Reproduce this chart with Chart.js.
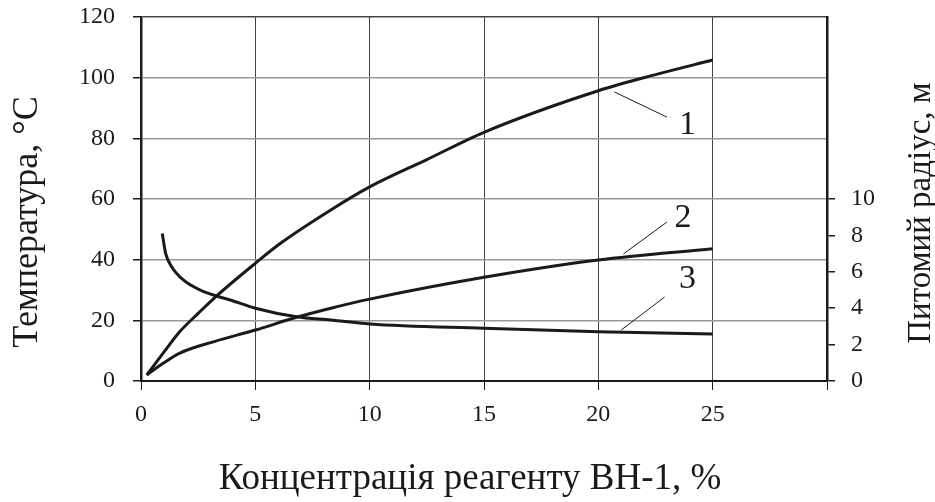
<!DOCTYPE html>
<html>
<head>
<meta charset="utf-8">
<script src="https://cdn.jsdelivr.net/npm/chart.js@4"></script>
<style>
  html, body { margin: 0; padding: 0; background: #fff; }
</style>
</head>
<body>
<canvas id="chart" width="935" height="502"></canvas>
<script>
// curve 1 - temperature, curve 2 - temperature, curve 3 - specific radius (right axis)
const conc1 = [0.25, 1, 1.7, 2.5, 3.3, 5, 6.1, 8.3, 10, 12.5, 15, 20, 22.5, 25];
const temp1 = [2, 9.5, 16.3, 22.3, 28, 38.8, 45.4, 56.4, 64, 73, 82, 95.7, 101, 105.8];

const conc2 = [0.25, 1, 1.7, 3.2, 5, 6.8, 8.3, 10, 15, 20, 25];
const temp2 = [2, 6, 9.2, 13, 16.8, 21, 24, 27, 34.2, 39.9, 43.6];

const conc3 = [0.93, 1.08, 1.34, 1.85, 2.58, 3.3, 3.9, 5, 6.8, 8.3, 10, 15, 20, 25];
const rad3 = [8.1, 7.0, 6.28, 5.55, 5.0, 4.67, 4.45, 4.0, 3.53, 3.35, 3.13, 2.9, 2.71, 2.58];

const curveNames = ["1", "2", "3"];

const serif = '"Liberation Serif", "DejaVu Serif", serif';
const ink = "#1a1a1a";

function pts(xs, ys) {
  return xs.map((x, i) => ({ x: x, y: ys[i] }));
}

function curve(xs, ys, axis) {
  return {
    data: pts(xs, ys),
    yAxisID: axis,
    borderColor: ink,
    borderWidth: 3,
    pointRadius: 0,
    fill: false,
    cubicInterpolationMode: "monotone",
  };
}

// leader lines and numbers, in data units of x / left y axis
const callouts = [
  { text: curveNames[0], from: [20.7, 95.3], to: [23.0, 87.0], at: [23.9, 84.4] },
  { text: curveNames[1], from: [21.1, 41.9], to: [23.0, 52.4], at: [23.7, 53.7] },
  { text: curveNames[2], from: [21.0, 16.8], to: [22.9, 27.7], at: [23.9, 33.6] },
];

const decor = {
  id: "decor",
  afterDraw(chart) {
    const { ctx, scales } = chart;
    const x = scales.x, y = scales.y;
    ctx.save();
    ctx.strokeStyle = ink;
    ctx.fillStyle = ink;
    ctx.lineWidth = 1;
    ctx.textAlign = "center";
    ctx.textBaseline = "middle";
    ctx.font = "34px " + serif;
    callouts.forEach((c) => {
      ctx.beginPath();
      ctx.moveTo(x.getPixelForValue(c.from[0]), y.getPixelForValue(c.from[1]));
      ctx.lineTo(x.getPixelForValue(c.to[0]), y.getPixelForValue(c.to[1]));
      ctx.stroke();
      ctx.fillText(c.text, x.getPixelForValue(c.at[0]), y.getPixelForValue(c.at[1]));
    });

    // axis titles
    ctx.font = "37px " + serif;
    ctx.fillText("Концентрація реагенту ВН-1, %", 470, 479);

    ctx.save();
    ctx.font = "36px " + serif;
    ctx.translate(28, 222);
    ctx.rotate(-Math.PI / 2);
    ctx.fillText("Температура, °C", 0, 0);
    ctx.restore();

    ctx.save();
    ctx.font = "33px " + serif;
    ctx.translate(921, 213);
    ctx.rotate(-Math.PI / 2);
    ctx.fillText("Питомий радіус, м", 0, 0);
    ctx.restore();

    ctx.restore();
  },
};

const tickFont = { family: serif, size: 24 };

// keep the plot top fixed: drop the label overhang the y scales ask for
function trimPad(s) {
  s.paddingTop = 0;
  s.paddingBottom = 0;
}

new Chart(document.getElementById("chart"), {
  type: "line",
  data: {
    datasets: [
      curve(conc1, temp1, "y"),
      curve(conc2, temp2, "y"),
      curve(conc3, rad3, "y1"),
    ],
  },
  options: {
    responsive: false,
    animation: false,
    devicePixelRatio: 1,
    layout: { padding: { top: 17, left: 0, right: 0, bottom: 0 } },
    plugins: {
      legend: { display: false },
      tooltip: { enabled: false },
    },
    scales: {
      x: {
        type: "linear",
        min: 0,
        max: 30,
        ticks: {
          stepSize: 5,
          color: ink,
          font: tickFont,
          padding: 10,
          callback: (v) => (v === 30 ? "" : v),
        },
        grid: { color: "#444", lineWidth: 1, tickLength: 9, tickColor: ink },
        border: { color: ink, width: 2 },
        afterFit: (s) => { s.height = 121; },
      },
      y: {
        position: "left",
        min: 0,
        max: 120,
        ticks: { stepSize: 20, color: ink, font: tickFont, padding: 18 },
        grid: {
          color: (c) => (c.tick && c.tick.value === 120 ? "#444" : "#999"),
          lineWidth: 1.5,
          tickLength: 8,
          tickColor: ink,
        },
        border: { color: ink, width: 2.5 },
        afterFit: (s) => { s.width = 141; trimPad(s); },
      },
      y1: {
        position: "right",
        min: 0,
        max: 20,
        ticks: { stepSize: 2, color: ink, font: tickFont, padding: 16 },
        grid: { drawOnChartArea: false, tickLength: 8, tickColor: ink, lineWidth: 1.5 },
        border: { color: ink, width: 2.5 },
        afterBuildTicks: (s) => { s.ticks = s.ticks.filter((t) => t.value <= 10); },
        afterFit: (s) => { s.width = 108; trimPad(s); },
      },
    },
  },
  plugins: [decor],
});
</script>
</body>
</html>
